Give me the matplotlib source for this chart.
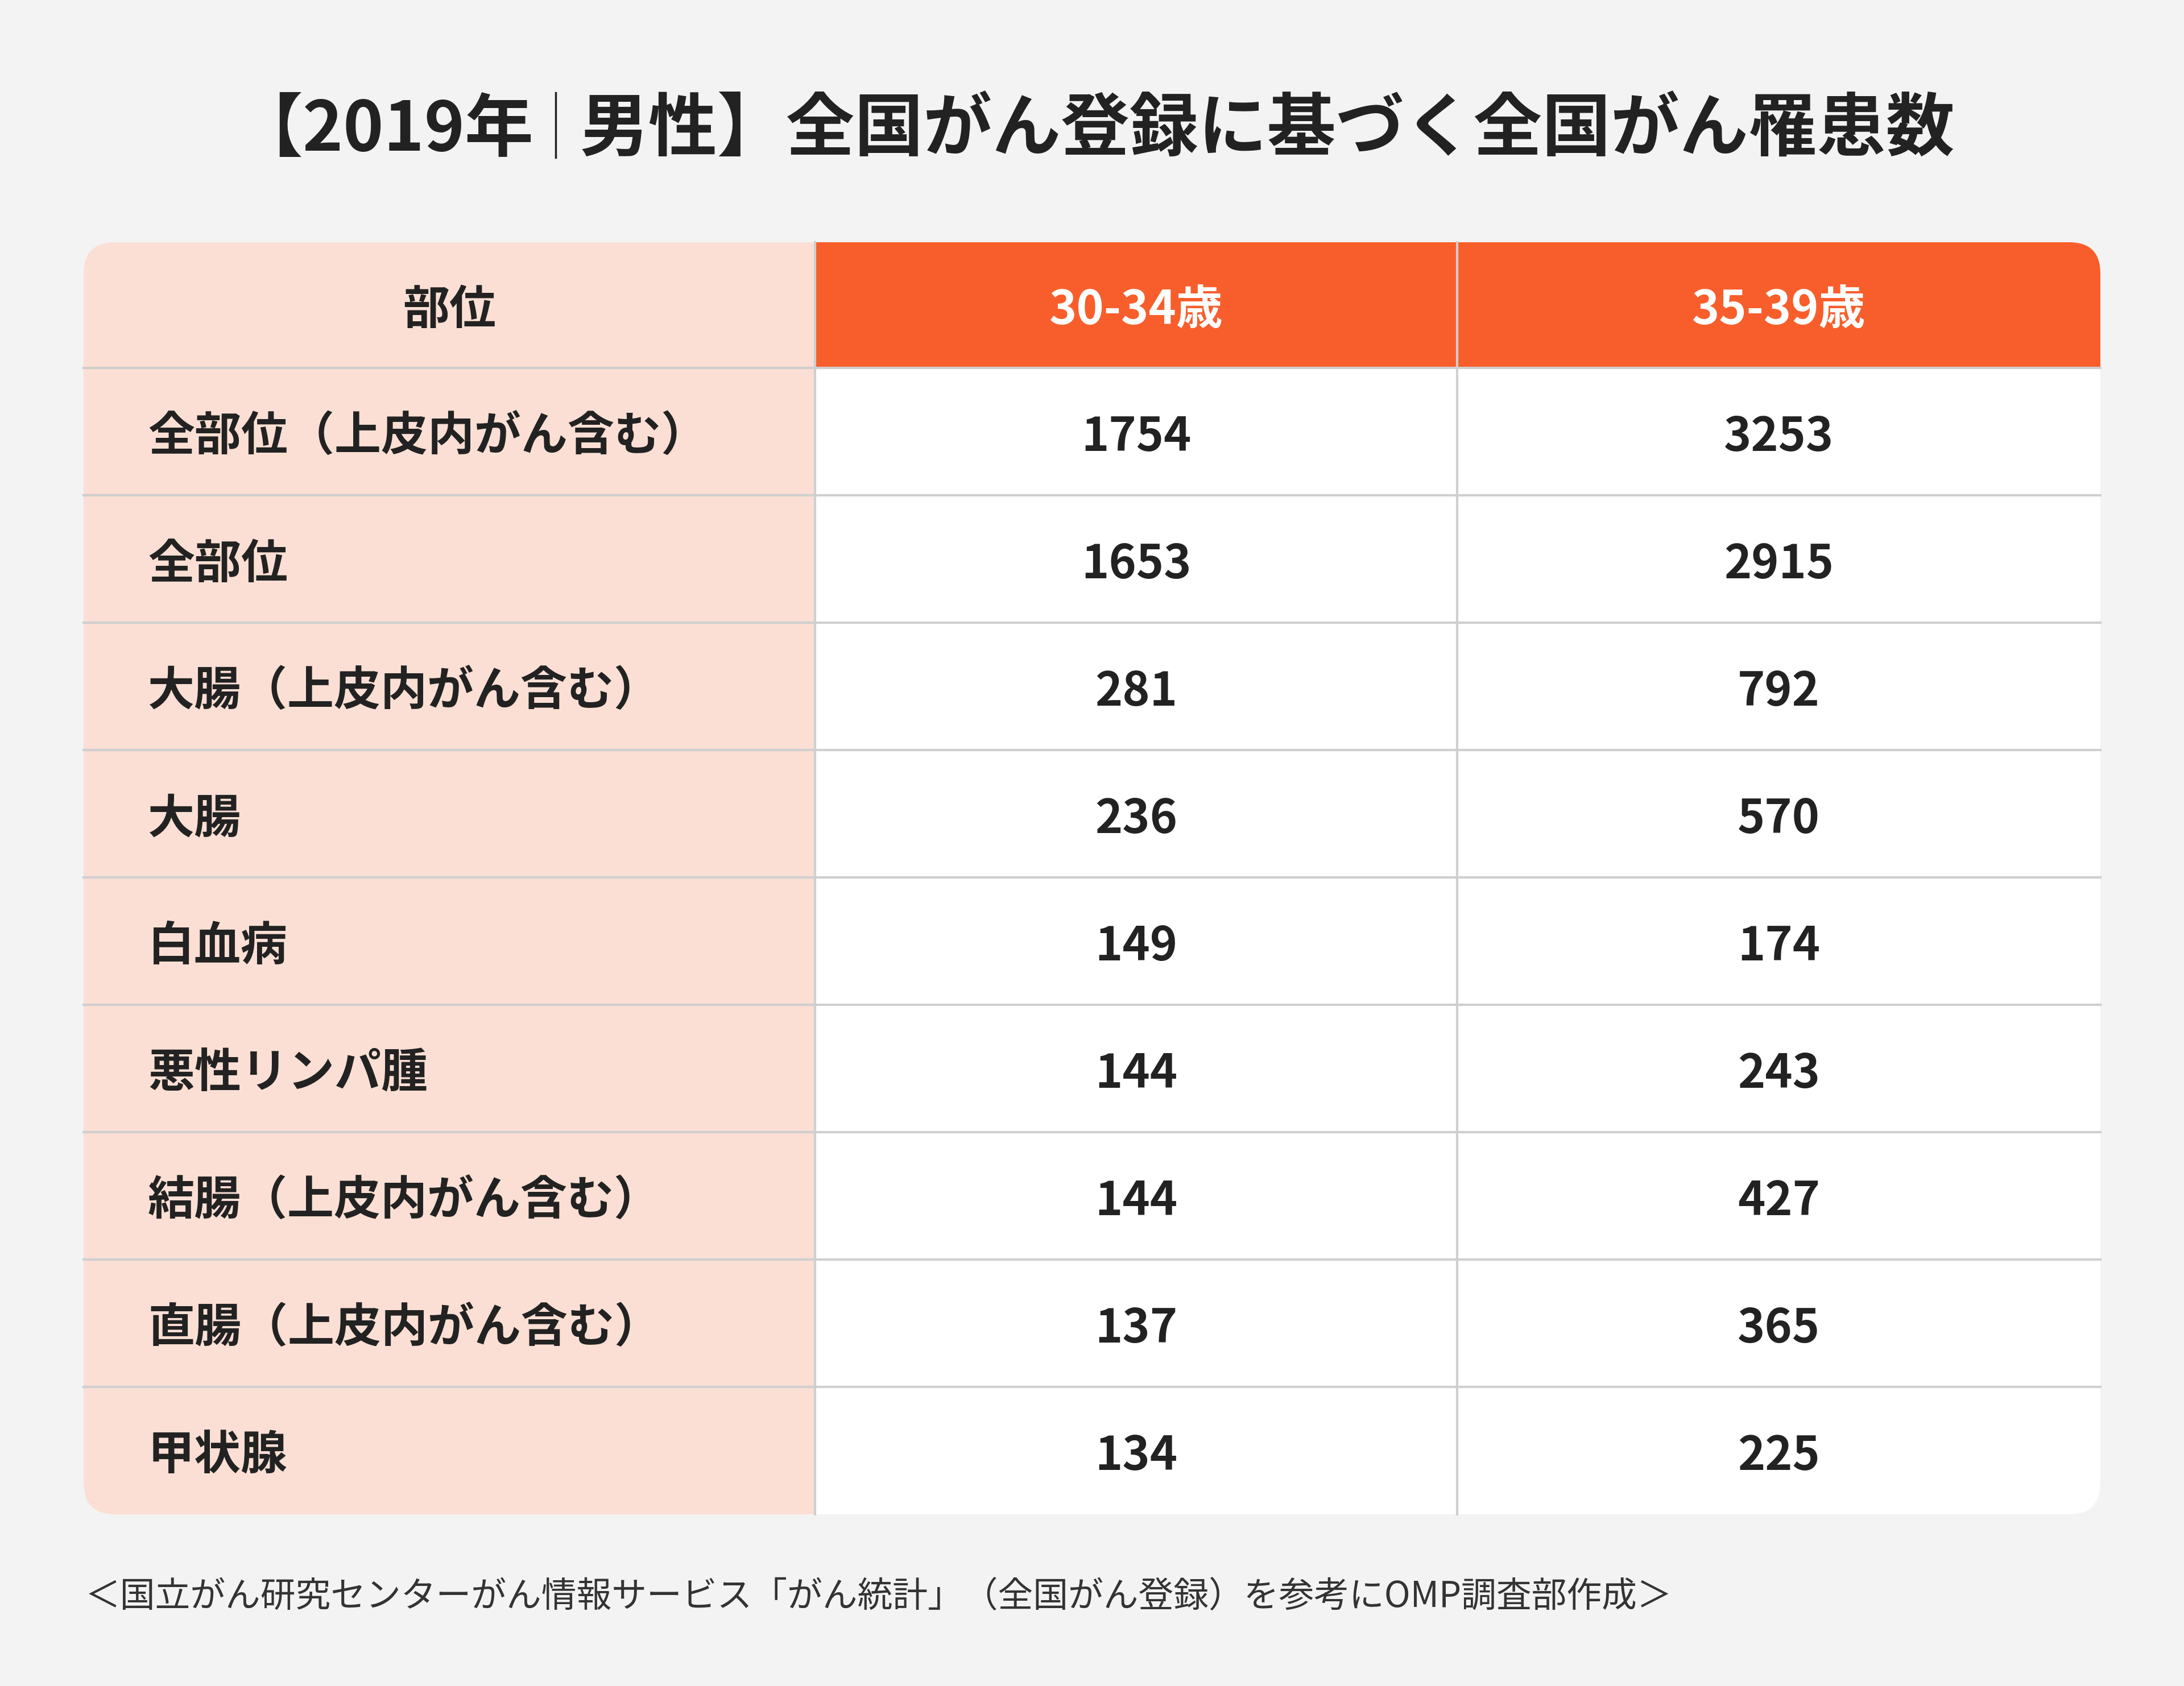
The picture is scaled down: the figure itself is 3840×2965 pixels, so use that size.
# 【2019年｜男性】全国がん登録に基づく全国がん罹患数 — table
import matplotlib.pyplot as plt
from matplotlib.patches import FancyBboxPatch, Rectangle

plt.rcParams['font.family'] = ['Noto Sans CJK JP', 'DejaVu Sans']

title_left = '【2019年'
title_right = '男性】全国がん登録に基づく全国がん罹患数'
col_headers = ['部位', '30-34歳', '35-39歳']
sites = ['全部位（上皮内がん含む）', '全部位', '大腸（上皮内がん含む）', '大腸',
         '白血病', '悪性リンパ腫', '結腸（上皮内がん含む）', '直腸（上皮内がん含む）', '甲状腺']
age_30_34 = [1754, 1653, 281, 236, 149, 144, 144, 137, 134]
age_35_39 = [3253, 2915, 792, 570, 174, 243, 427, 365, 225]
source = '＜国立がん研究センターがん情報サービス「がん統計」（全国がん登録）を参考にOMP調査部作成＞'

BG = '#F3F3F3'
PEACH = '#FBDFD4'
ORANGE = '#F85E2B'
LINE = '#CFCFCF'
TXT = '#222222'
FS = 59
DY = 10  # text sits a bit lower than the bbox centre

fig = plt.figure(figsize=(38.4, 29.65), dpi=100)
fig.patch.set_facecolor(BG)
ax = fig.add_axes([0, 0, 1, 1])
ax.set_xlim(0, 3840)
ax.set_ylim(2965, 0)
ax.axis('off')

# title
ax.text(938, 230, title_left, ha='right', va='center', fontsize=87,
        fontweight='bold', color=TXT)
ax.plot([977, 977], [163, 277], color=TXT, lw=2.5)
ax.text(1020, 230, title_right, ha='left', va='center', fontsize=87,
        fontweight='bold', color=TXT)

# table geometry
xs = [147, 1433, 2562, 3693]
top, head_h, row_h = 426, 221, 224
n = len(sites)
bottom = top + head_h + row_h * n

box = FancyBboxPatch((xs[0], top), xs[-1] - xs[0], bottom - top,
                     boxstyle='round,pad=0,rounding_size=55',
                     facecolor='white', edgecolor='none', zorder=1)
ax.add_patch(box)

def cell(x0, y0, w, h, color):
    r = Rectangle((x0, y0), w, h, facecolor=color, edgecolor='none', zorder=2)
    ax.add_patch(r)
    r.set_clip_path(box)

cell(xs[0], top, xs[1] - xs[0], bottom - top, PEACH)
cell(xs[1], top, xs[-1] - xs[1], head_h, ORANGE)

# grid lines
for i in range(n):
    y = top + head_h + row_h * i
    ax.plot([xs[0], xs[-1]], [y, y], color=LINE, lw=3, zorder=3)
for x in xs[1:-1]:
    ax.plot([x, x], [top, bottom], color=LINE, lw=3, zorder=3)

# header text
hy = top + head_h / 2 + DY
ax.text((xs[0] + xs[1]) / 2, hy, col_headers[0], ha='center', va='center',
        fontsize=FS, fontweight='bold', color=TXT, zorder=4)
for j, h in enumerate(col_headers[1:]):
    ax.text((xs[j + 1] + xs[j + 2]) / 2, hy, h, ha='center', va='center',
            fontsize=FS, fontweight='bold', color='white', zorder=4)

# rows
for i, (s, a, b) in enumerate(zip(sites, age_30_34, age_35_39)):
    y = top + head_h + row_h * (i + 0.5) + DY
    ax.text(260, y, s, ha='left', va='center', fontsize=FS,
            fontweight='bold', color=TXT, zorder=4)
    ax.text((xs[1] + xs[2]) / 2, y, str(a), ha='center', va='center',
            fontsize=FS, fontweight='bold', color=TXT, zorder=4)
    ax.text((xs[2] + xs[3]) / 2, y, str(b), ha='center', va='center',
            fontsize=FS, fontweight='bold', color=TXT, zorder=4)

# source
ax.text(150, 2808, source, ha='left', va='center', fontsize=44.5, color='#333333')

fig.savefig('out.png', dpi=100, facecolor=fig.get_facecolor())
